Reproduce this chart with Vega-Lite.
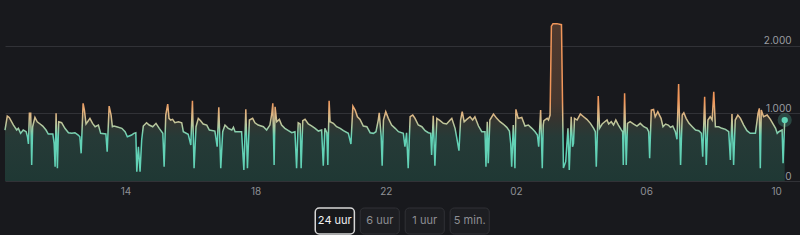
{
"$schema": "https://vega.github.io/schema/vega-lite/v6.json",
"background": "#18191d",
"padding": {"left": 2, "top": 10, "right": 0, "bottom": 0},
"spacing": 11,
"center": true,
"config": {"view": {"stroke": null}, "font": "Inter"},
"datasets": {
"power": [
{"h":10.30,"v":755},{"h":10.37,"v":962},{"h":10.43,"v":942},{"h":10.56,"v":829},{"h":10.66,"v":755},{"h":10.71,"v":780},{"h":10.78,"v":706},{"h":10.86,"v":755},{"h":10.95,"v":730},{"h":10.99,"v":656},
{"h":11.02,"v":548},{"h":11.05,"v":1002},{"h":11.09,"v":1002},{"h":11.12,"v":237},{"h":11.15,"v":804},{"h":11.22,"v":942},{"h":11.29,"v":878},{"h":11.38,"v":844},{"h":11.46,"v":814},{"h":11.56,"v":755},
{"h":11.63,"v":696},{"h":11.77,"v":696},{"h":11.81,"v":558},{"h":11.84,"v":212},{"h":11.87,"v":1002},{"h":11.91,"v":188},{"h":11.95,"v":878},{"h":12.04,"v":863},{"h":12.14,"v":780},{"h":12.25,"v":715},
{"h":12.35,"v":706},{"h":12.45,"v":715},{"h":12.55,"v":681},{"h":12.60,"v":656},{"h":12.64,"v":410},{"h":12.70,"v":1150},{"h":12.74,"v":1051},{"h":12.79,"v":844},{"h":12.86,"v":893},{"h":12.91,"v":928},
{"h":12.99,"v":854},{"h":13.07,"v":804},{"h":13.17,"v":829},{"h":13.24,"v":706},{"h":13.40,"v":696},{"h":13.44,"v":434},{"h":13.50,"v":1110},{"h":13.56,"v":977},{"h":13.60,"v":804},{"h":13.65,"v":814},
{"h":13.73,"v":804},{"h":13.89,"v":780},{"h":13.99,"v":730},{"h":14.06,"v":656},{"h":14.19,"v":681},{"h":14.26,"v":706},{"h":14.32,"v":715},{"h":14.35,"v":138},{"h":14.40,"v":508},{"h":14.45,"v":138},
{"h":14.50,"v":607},{"h":14.55,"v":814},{"h":14.65,"v":863},{"h":14.73,"v":829},{"h":14.84,"v":804},{"h":14.94,"v":854},{"h":15.04,"v":780},{"h":15.15,"v":706},{"h":15.19,"v":212},{"h":15.24,"v":977},
{"h":15.30,"v":1140},{"h":15.34,"v":928},{"h":15.39,"v":903},{"h":15.45,"v":913},{"h":15.52,"v":863},{"h":15.63,"v":878},{"h":15.73,"v":863},{"h":15.78,"v":730},{"h":15.93,"v":691},{"h":16.01,"v":533},
{"h":16.06,"v":1189},{"h":16.11,"v":188},{"h":16.17,"v":804},{"h":16.24,"v":928},{"h":16.31,"v":893},{"h":16.39,"v":844},{"h":16.50,"v":829},{"h":16.58,"v":755},{"h":16.75,"v":740},{"h":16.82,"v":508},
{"h":16.87,"v":1091},{"h":16.93,"v":188},{"h":16.99,"v":730},{"h":17.06,"v":829},{"h":17.16,"v":780},{"h":17.27,"v":755},{"h":17.32,"v":795},{"h":17.37,"v":730},{"h":17.57,"v":730},{"h":17.64,"v":163},
{"h":17.70,"v":1061},{"h":17.75,"v":188},{"h":17.81,"v":903},{"h":17.91,"v":928},{"h":17.98,"v":863},{"h":18.08,"v":829},{"h":18.24,"v":804},{"h":18.34,"v":755},{"h":18.44,"v":829},{"h":18.50,"v":1002},
{"h":18.53,"v":1150},{"h":18.57,"v":237},{"h":18.60,"v":1100},{"h":18.65,"v":878},{"h":18.73,"v":913},{"h":18.80,"v":829},{"h":18.90,"v":780},{"h":19.01,"v":745},{"h":19.11,"v":715},{"h":19.21,"v":730},
{"h":19.26,"v":188},{"h":19.31,"v":863},{"h":19.37,"v":844},{"h":19.40,"v":188},{"h":19.45,"v":893},{"h":19.52,"v":913},{"h":19.62,"v":844},{"h":19.73,"v":814},{"h":19.83,"v":780},{"h":19.93,"v":740},
{"h":20.03,"v":755},{"h":20.08,"v":227},{"h":20.13,"v":780},{"h":20.19,"v":715},{"h":20.22,"v":237},{"h":20.26,"v":1189},{"h":20.29,"v":878},{"h":20.39,"v":854},{"h":20.49,"v":804},{"h":20.60,"v":780},
{"h":20.70,"v":745},{"h":20.85,"v":706},{"h":20.93,"v":548},{"h":20.99,"v":1110},{"h":21.06,"v":1051},{"h":21.13,"v":952},{"h":21.21,"v":913},{"h":21.31,"v":814},{"h":21.42,"v":804},{"h":21.52,"v":715},
{"h":21.62,"v":706},{"h":21.70,"v":730},{"h":21.77,"v":903},{"h":21.80,"v":1011},{"h":21.86,"v":656},{"h":21.89,"v":227},{"h":21.93,"v":903},{"h":22.00,"v":1026},{"h":22.08,"v":928},{"h":22.18,"v":829},
{"h":22.29,"v":780},{"h":22.39,"v":730},{"h":22.54,"v":706},{"h":22.59,"v":508},{"h":22.64,"v":715},{"h":22.69,"v":188},{"h":22.75,"v":952},{"h":22.83,"v":977},{"h":22.90,"v":928},{"h":23.00,"v":829},
{"h":23.11,"v":804},{"h":23.21,"v":745},{"h":23.31,"v":715},{"h":23.38,"v":706},{"h":23.41,"v":385},{"h":23.46,"v":967},{"h":23.51,"v":227},{"h":23.57,"v":928},{"h":23.67,"v":893},{"h":23.77,"v":854},
{"h":23.87,"v":844},{"h":23.98,"v":903},{"h":24.03,"v":928},{"h":24.13,"v":780},{"h":24.18,"v":646},{"h":24.25,"v":449},{"h":24.30,"v":903},{"h":24.35,"v":1026},{"h":24.41,"v":878},{"h":24.49,"v":913},
{"h":24.59,"v":952},{"h":24.67,"v":903},{"h":24.74,"v":952},{"h":24.85,"v":814},{"h":24.95,"v":730},{"h":25.05,"v":730},{"h":25.08,"v":212},{"h":25.12,"v":878},{"h":25.15,"v":262},{"h":25.20,"v":903},
{"h":25.31,"v":992},{"h":25.41,"v":928},{"h":25.51,"v":878},{"h":25.61,"v":844},{"h":25.72,"v":795},{"h":25.80,"v":740},{"h":25.84,"v":558},{"h":25.87,"v":212},{"h":25.92,"v":829},{"h":25.97,"v":188},
{"h":26.00,"v":1061},{"h":26.07,"v":928},{"h":26.18,"v":942},{"h":26.28,"v":814},{"h":26.38,"v":829},{"h":26.49,"v":780},{"h":26.59,"v":730},{"h":26.66,"v":681},{"h":26.70,"v":508},{"h":26.76,"v":1051},
{"h":26.81,"v":188},{"h":26.84,"v":829},{"h":26.86,"v":893},{"h":26.96,"v":928},{"h":27.00,"v":903},{"h":27.05,"v":977},{"h":27.09,"v":2294},{"h":27.14,"v":2331},{"h":27.26,"v":2331},{"h":27.40,"v":2316},
{"h":27.46,"v":192},{"h":27.53,"v":286},{"h":27.60,"v":780},{"h":27.64,"v":163},{"h":27.68,"v":710},{"h":27.70,"v":952},{"h":27.74,"v":508},{"h":27.77,"v":558},{"h":27.80,"v":928},{"h":27.88,"v":903},
{"h":27.98,"v":992},{"h":28.08,"v":952},{"h":28.18,"v":913},{"h":28.29,"v":854},{"h":28.39,"v":780},{"h":28.44,"v":730},{"h":28.47,"v":212},{"h":28.51,"v":804},{"h":28.53,"v":1258},{"h":28.57,"v":780},
{"h":28.65,"v":844},{"h":28.73,"v":878},{"h":28.80,"v":903},{"h":28.85,"v":844},{"h":28.93,"v":878},{"h":29.00,"v":829},{"h":29.07,"v":903},{"h":29.15,"v":829},{"h":29.23,"v":765},{"h":29.28,"v":730},
{"h":29.30,"v":237},{"h":29.34,"v":1298},{"h":29.39,"v":237},{"h":29.43,"v":854},{"h":29.51,"v":878},{"h":29.62,"v":844},{"h":29.72,"v":814},{"h":29.82,"v":854},{"h":29.93,"v":804},{"h":30.03,"v":780},
{"h":30.08,"v":730},{"h":30.11,"v":336},{"h":30.16,"v":1051},{"h":30.23,"v":1061},{"h":30.28,"v":952},{"h":30.36,"v":1026},{"h":30.41,"v":977},{"h":30.46,"v":928},{"h":30.52,"v":804},{"h":30.60,"v":844},
{"h":30.68,"v":829},{"h":30.75,"v":795},{"h":30.82,"v":814},{"h":30.90,"v":730},{"h":30.95,"v":617},{"h":31.00,"v":1436},{"h":31.06,"v":237},{"h":31.11,"v":977},{"h":31.16,"v":1011},{"h":31.23,"v":928},
{"h":31.32,"v":854},{"h":31.42,"v":804},{"h":31.52,"v":755},{"h":31.62,"v":745},{"h":31.70,"v":706},{"h":31.74,"v":360},{"h":31.80,"v":1248},{"h":31.85,"v":237},{"h":31.90,"v":903},{"h":31.97,"v":952},
{"h":32.03,"v":903},{"h":32.08,"v":1322},{"h":32.13,"v":804},{"h":32.23,"v":804},{"h":32.33,"v":780},{"h":32.44,"v":765},{"h":32.54,"v":730},{"h":32.59,"v":311},{"h":32.64,"v":992},{"h":32.69,"v":237},
{"h":32.74,"v":903},{"h":32.82,"v":977},{"h":32.90,"v":928},{"h":33.00,"v":829},{"h":33.10,"v":745},{"h":33.20,"v":706},{"h":33.36,"v":706},{"h":33.44,"v":1002},{"h":33.48,"v":1076},{"h":33.51,"v":188},
{"h":33.54,"v":1051},{"h":33.61,"v":952},{"h":33.72,"v":977},{"h":33.82,"v":913},{"h":33.98,"v":780},{"h":34.03,"v":706},{"h":34.08,"v":730},{"h":34.18,"v":755},{"h":34.21,"v":262},{"h":34.26,"v":903}
],
"last": [{"h":34.26,"v":903}],
"buttons": [
{"label":"24 uur","sel":"ja"},{"label":"6 uur","sel":"nee"},{"label":"1 uur","sel":"nee"},{"label":"5 min.","sel":"nee"}
]
},
"vconcat": [
{
"width": 795, "height": 171,
"data": {"name": "power"},
"encoding": {
"x": {"field": "h", "type": "quantitative",
  "scale": {"domain": [10.3, 34.73], "nice": false, "zero": false},
  "axis": {"values": [14, 18, 22, 26, 30, 34], "labelExpr": "format(datum.value % 24, '02d')", "grid": false, "domain": false, "ticks": false, "labelPadding": 5, "labelColor": "#8e9095", "labelFontSize": 10, "title": null}},
"y": {"field": "v", "type": "quantitative",
  "scale": {"domain": [0, 2533], "nice": false},
  "axis": {"orient": "right", "values": [0, 1000, 2000], "grid": true, "gridColor": "#313237", "domain": false, "ticks": false, "labelAlign": "right", "labelBaseline": "bottom", "labelPadding": -9, "labelOffset": 0, "labelColor": "#9b9da2", "labelFontSize": 10, "title": null, "labelExpr": "replace(format(datum.value, ','), ',', '.')"}}
},
"layer": [
{"mark": {"type": "area", "fill": {"gradient": "linear", "x1": 0, "y1": 0, "x2": 0, "y2": 1, "stops": [
  {"offset": 0, "color": "#4f392d"}, {"offset": 0.5, "color": "#45362e"}, {"offset": 0.6, "color": "#37342f"}, {"offset": 0.72, "color": "#263a37"}, {"offset": 1, "color": "#1f3834"}]}}},
{"mark": {"type": "line", "strokeWidth": 1.5, "stroke": {"gradient": "linear", "x1": 0, "y1": 0, "x2": 0, "y2": 1, "stops": [
  {"offset": 0, "color": "#f0965a"}, {"offset": 0.52, "color": "#f0965a"}, {"offset": 0.62, "color": "#dcb886"}, {"offset": 0.69, "color": "#b4c9a0"}, {"offset": 0.76, "color": "#62d2b6"}, {"offset": 1, "color": "#62d2b6"}]}}},
{"data": {"name": "last"}, "mark": {"type": "circle", "size": 200, "color": "#5fd3b5", "opacity": 0.25}},
{"data": {"name": "last"}, "mark": {"type": "circle", "size": 40, "color": "#5fd3b5", "opacity": 1}}
]
},
{
"width": 174, "height": 26,
"data": {"name": "buttons"},
"encoding": {
"x": {"field": "label", "type": "nominal", "sort": null, "scale": {"paddingInner": 0.13, "paddingOuter": 0}, "axis": null}
},
"layer": [
{"mark": {"type": "rect", "cornerRadius": 4},
 "encoding": {
  "stroke": {"field": "sel", "type": "nominal", "scale": {"domain": ["ja", "nee"], "range": ["#d6d6d6", "#303136"]}, "legend": null},
  "fill": {"field": "sel", "type": "nominal", "scale": {"domain": ["ja", "nee"], "range": ["#17181b", "#1d1e22"]}, "legend": null},
  "strokeWidth": {"field": "sel", "type": "nominal", "scale": {"domain": ["ja", "nee"], "range": [1.5, 1]}, "legend": null}
 }},
{"mark": {"type": "text", "fontSize": 11},
 "encoding": {
  "text": {"field": "label"},
  "color": {"field": "sel", "type": "nominal", "scale": {"domain": ["ja", "nee"], "range": ["#f2f2f2", "#8d8f94"]}, "legend": null}
 }}
]
}
]
}
